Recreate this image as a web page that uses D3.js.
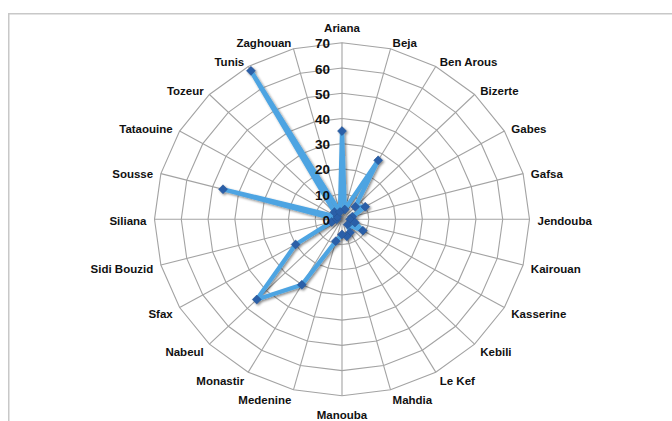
<!DOCTYPE html>
<html><head><meta charset="utf-8">
<script src="https://cdnjs.cloudflare.com/ajax/libs/d3/7.8.5/d3.min.js"></script>
<style>body{margin:0;background:#fff}svg{display:block}</style>
</head><body>
<svg id="c" width="672" height="421"></svg>
<script>
const categories = ["Ariana","Beja","Ben Arous","Bizerte","Gabes","Gafsa","Jendouba","Kairouan","Kasserine","Kebili","Le Kef","Mahdia","Manouba","Medenine","Monastir","Nabeul","Sfax","Sidi Bouzid","Siliana","Sousse","Tataouine","Tozeur","Tunis","Zaghouan"];
const values = [35,4,27,7,10,4,3,5,9,3,6,7,6,9,30,45,20,4,2,46,2,4,68,3];
const tickValues = [0,10,20,30,40,50,60,70];

const svg = d3.select("#c");
const cx = 342, cy = 219.3, rx = 187.5, ry = 176.5;
const n = categories.length;
const ang = d3.scaleLinear().domain([0, n]).range([0, 2 * Math.PI]);
const r = d3.scaleLinear().domain([0, 70]).range([0, 1]);
const pt = (i, v) => [cx + rx * r(v) * Math.sin(ang(i)), cy - ry * r(v) * Math.cos(ang(i))];
const FONT = "'Liberation Sans', Arial, sans-serif";

const defs = svg.append("defs");
const f = defs.append("filter").attr("id","sh").attr("x","-20%").attr("y","-20%").attr("width","140%").attr("height","140%");
f.append("feDropShadow").attr("dx",1.5).attr("dy",1.5).attr("stdDeviation",1.2).attr("flood-color","#000").attr("flood-opacity",0.45);

// frame
svg.append("path").attr("d","M8.75,430 V13.75 H680").attr("fill","none").attr("stroke","#c8c8c8").attr("stroke-width",1.5);

const grid = svg.append("g");
tickValues.filter(t => t > 0).forEach(t => {
  const pts = d3.range(n).map(i => pt(i, t));
  grid.append("path").attr("d", d3.line().curve(d3.curveLinearClosed)(pts))
    .attr("fill","none").attr("stroke","#a3a3a3").attr("stroke-width",1.1);
});
d3.range(n).forEach(i => {
  const [x, y] = pt(i, 70);
  grid.append("line").attr("x1",cx).attr("y1",cy).attr("x2",x).attr("y2",y)
    .attr("stroke","#a3a3a3").attr("stroke-width",1.1);
});

// category labels
svg.append("g").selectAll("text").data(categories).join("text")
  .each(function(d, i) {
    const a = ang(i), s = Math.sin(a), c = Math.cos(a);
    const [vx, vy] = pt(i, 70);
    const t = d3.select(this);
    if (Math.abs(s) < 0.01) {
      t.attr("x", vx).attr("y", c > 0 ? vy - 15 : vy + 19).attr("text-anchor","middle");
    } else {
      t.attr("x", vx + 8 * s).attr("y", vy - 8 * c + 2).attr("text-anchor", s > 0 ? "start" : "end");
    }
  })
  .attr("dominant-baseline","central")
  .style("font-family",FONT).style("font-weight","bold").style("font-size","11.5px")
  .attr("fill","#111").text(d => d);

// series
const series = svg.append("g").attr("filter","url(#sh)");
const data = values.map((v, i) => pt(i, v));
series.append("path").attr("d", d3.line().curve(d3.curveLinearClosed)(data))
  .attr("fill","none").attr("stroke","#4da4e2").attr("stroke-width",4.3).attr("stroke-linejoin","round");
series.selectAll("path.m").data(data).join("path").attr("class","m")
  .attr("d", d3.symbol(d3.symbolSquare, 40)())
  .attr("transform", d => `translate(${d[0]},${d[1]}) rotate(45)`)
  .attr("fill","#2c5fa8").attr("stroke","#24508f").attr("stroke-width",0.5);

// tick labels
svg.append("g").selectAll("text").data(tickValues).join("text")
  .attr("x", 330).attr("y", d => pt(0, d)[1] + 1)
  .attr("text-anchor","end").attr("dominant-baseline","central")
  .style("font-family",FONT).style("font-weight","bold").style("font-size","13.5px")
  .attr("fill","#111").text(d => d);
</script>
</body></html>
